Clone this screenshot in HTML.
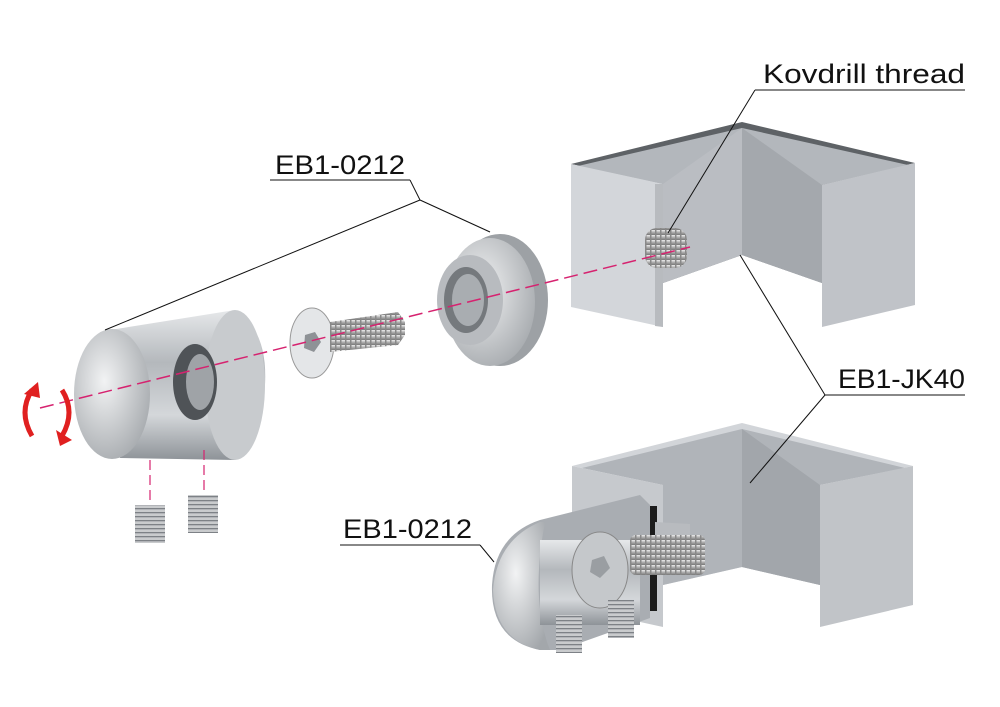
<!DOCTYPE html>
<html><head><style>body{margin:0;background:#fff}svg{display:block}text{font-family:"Liberation Sans",sans-serif;font-size:27px;fill:#111}</style></head><body>
<svg width="1000" height="707" viewBox="0 0 1000 707" xmlns="http://www.w3.org/2000/svg">
<defs>
<linearGradient id="cyl" x1="0" y1="0" x2="0" y2="1"><stop offset="0" stop-color="#e6e8ea"/><stop offset=".35" stop-color="#b4b8bc"/><stop offset=".7" stop-color="#d4d7da"/><stop offset="1" stop-color="#8e9398"/></linearGradient>
<radialGradient id="face" cx=".4" cy=".4" r=".7"><stop offset="0" stop-color="#f2f3f4"/><stop offset="1" stop-color="#a3a7ab"/></radialGradient>
<linearGradient id="thr" x1="0" y1="0" x2="0" y2="1"><stop offset="0" stop-color="#eee"/><stop offset=".5" stop-color="#aaa"/><stop offset="1" stop-color="#777"/></linearGradient>
<pattern id="th" width="5" height="5" patternUnits="userSpaceOnUse"><rect width="5" height="5" fill="url(#thr)"/><rect width="1.5" height="5" fill="#888"/></pattern>
<pattern id="thv" width="5" height="4" patternUnits="userSpaceOnUse"><rect width="5" height="4" fill="#c9cbcd"/><rect width="5" height="1.3" fill="#7d8186"/></pattern>
</defs>

<!-- upper bracket -->
<polygon points="571,164 742,122 915,163 822,185 822,283 742,255 663,283 663,184" fill="#5e6266"/>
<polygon points="578,166 742,128 908,165 822,185 822,283 742,255 663,283 663,184" fill="#b3b7bc"/>
<polygon points="663,184 742,128 742,255 663,283" fill="#babdc2"/>
<polygon points="742,128 822,185 822,283 742,255" fill="#a4a8ad"/>
<polygon points="571,164 663,184 663,327 571,307" fill="#d3d6da"/>
<polygon points="655,184 663,184 663,327 655,326" fill="#b8bbbf"/>
<polygon points="822,185 915,163 915,305 822,327" fill="#c0c3c8"/>
<rect x="645" y="228" width="42" height="40" rx="12" fill="url(#th)"/>

<!-- lower bracket -->
<polygon points="572,466 742,423 913,466 820,485 820,585 742,567 663,585 663,485" fill="#d2d5d9"/>
<polygon points="582,468 742,429 905,468 820,485 820,585 742,567 663,585 663,485" fill="#b0b4b9"/>
<polygon points="742,429 820,485 820,585 742,567" fill="#a2a6ab"/>
<polygon points="572,466 663,485 663,627 572,607" fill="#c6c9cd"/>
<polygon points="820,485 913,466 913,605 820,627" fill="#c1c4c8"/>
<rect x="648" y="506" width="9" height="105" fill="#1c1c1c"/>
<polygon points="655,522 690,524 690,572 655,575" fill="#b8bbbf"/>
<path d="M540,520 L640,495 L650,505 L650,618 L560,650 L540,650 Q490,640 492,585 Q495,535 540,520 Z" fill="#a9adb2"/>
<path d="M540,522 Q497,540 493,590 Q495,640 540,650 L550,650 Q530,600 545,522 Z" fill="url(#face)"/>
<rect x="540" y="540" width="100" height="85" fill="url(#cyl)"/>
<rect x="630" y="535" width="75" height="40" rx="6" fill="url(#th)"/>
<ellipse cx="600" cy="570" rx="28" ry="38" fill="#c5c8cb" stroke="#888"/>
<polygon points="592,560 604,556 610,568 600,578 590,572" fill="#9a9ea2"/>
<rect x="556" y="615" width="26" height="38" fill="url(#thv)"/>
<rect x="608" y="600" width="26" height="38" fill="url(#thv)"/>

<!-- upper cylinder -->
<path d="M110,330 L235,310 Q268,330 265,385 Q262,440 235,460 L120,458 Z" fill="url(#cyl)"/>
<ellipse cx="235" cy="385" rx="30" ry="75" fill="#c8cbce"/>
<ellipse cx="195" cy="382" rx="22" ry="38" fill="#4f5357"/>
<ellipse cx="200" cy="382" rx="14" ry="28" fill="#9fa3a7"/>
<ellipse cx="112" cy="394" rx="38" ry="65" fill="url(#face)"/>
<rect x="135" y="505" width="30" height="38" fill="url(#thv)"/>
<rect x="188" y="495" width="30" height="38" fill="url(#thv)"/>

<!-- screw -->
<ellipse cx="312" cy="343" rx="22" ry="35" fill="#e4e6e8" stroke="#999"/>
<polygon points="305,335 315,332 321,342 314,352 304,348" fill="#8e9296"/>
<path d="M330,322 L398,312 L405,322 L405,335 L398,345 L330,352 Z" fill="url(#th)"/>

<!-- washer -->
<ellipse cx="500" cy="300" rx="48" ry="66" fill="#9da1a5"/>
<ellipse cx="490" cy="302" rx="45" ry="64" fill="url(#face)"/>
<ellipse cx="470" cy="300" rx="33" ry="45" fill="#b8bbbf"/>
<ellipse cx="466" cy="300" rx="22" ry="33" fill="#75797d"/>
<ellipse cx="468" cy="300" rx="16" ry="26" fill="#a9adb1"/>

<!-- axis -->
<line x1="40" y1="408" x2="690" y2="247" stroke="#d6226f" stroke-width="1.5" stroke-dasharray="14,6"/>
<line x1="150" y1="460" x2="150" y2="505" stroke="#d6226f" stroke-width="1.2" stroke-dasharray="10,5"/>
<line x1="204" y1="450" x2="204" y2="495" stroke="#d6226f" stroke-width="1.2" stroke-dasharray="10,5"/>

<!-- red rotate arrows -->
<path d="M32,390 Q18,412 32,436" stroke="#e02020" stroke-width="5" fill="none"/>
<path d="M62,390 Q76,412 62,436" stroke="#e02020" stroke-width="5" fill="none"/>
<polygon points="24,394 38,382 40,398" fill="#e02020"/>
<polygon points="56,430 72,440 60,446" fill="#e02020"/>

<!-- labels -->
<g stroke="#111" stroke-width="1" fill="none">
<line x1="755" y1="90" x2="965" y2="90"/><line x1="755" y1="90" x2="668" y2="233"/>
<line x1="270" y1="180" x2="410" y2="180"/><line x1="410" y1="180" x2="420" y2="200"/>
<line x1="420" y1="200" x2="105" y2="330"/><line x1="420" y1="200" x2="490" y2="232"/>
<line x1="825" y1="395" x2="965" y2="395"/><line x1="825" y1="395" x2="740" y2="255"/><line x1="825" y1="395" x2="750" y2="483"/>
<line x1="340" y1="545" x2="480" y2="545"/><line x1="480" y1="545" x2="494" y2="562"/>
</g>
<text x="763" y="83" textLength="202" lengthAdjust="spacingAndGlyphs">Kovdrill thread</text>
<text x="275" y="174" textLength="130" lengthAdjust="spacingAndGlyphs">EB1-0212</text>
<text x="838" y="388" textLength="127" lengthAdjust="spacingAndGlyphs">EB1-JK40</text>
<text x="343" y="538" textLength="129" lengthAdjust="spacingAndGlyphs">EB1-0212</text>
</svg>
</body></html>
